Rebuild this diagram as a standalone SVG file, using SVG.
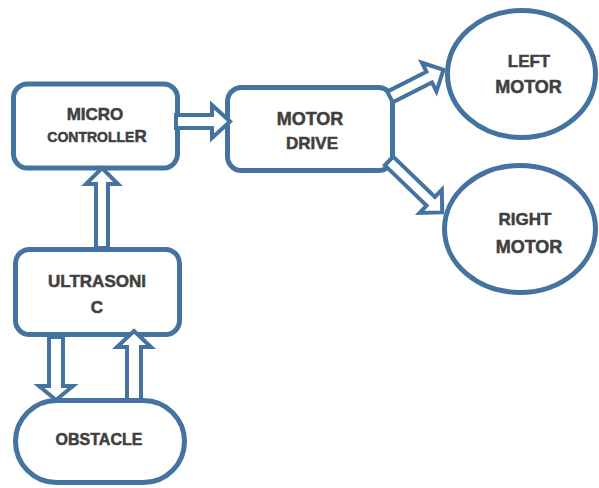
<svg xmlns="http://www.w3.org/2000/svg" width="599" height="488" viewBox="0 0 599 488">
<style>
.box{fill:#fff;stroke:#44739f;stroke-width:5}
.arr{fill:#fff;stroke:#44739f;stroke-width:4;stroke-linejoin:miter}
text{font-family:"Liberation Sans",Arial,sans-serif;font-weight:bold;fill:#404040;stroke:#404040;stroke-width:0.5;text-anchor:middle}
</style>
<rect width="599" height="488" fill="#fff"/>
<g id="micro">
<rect class="box" x="13.5" y="84" width="164" height="84" rx="14"/>
<text x="95" y="120" style="font-size:17px">MICRO</text>
<text x="97" y="142" style="font-size:14px">CONTROLLE<tspan style="font-size:17px">R</tspan></text>
</g>
<g id="drive">
<rect class="box" x="227.5" y="87.5" width="165" height="83" rx="14"/>
<text x="310" y="125" style="font-size:18px">MOTOR</text>
<text x="312" y="149" style="font-size:17px">DRIVE</text>
</g>
<g id="left">
<ellipse class="box" cx="521.5" cy="74" rx="74" ry="63.5"/>
<text x="529" y="67" style="font-size:17px">LEFT</text>
<text x="528.5" y="93" style="font-size:18px">MOTOR</text>
</g>
<g id="right">
<ellipse class="box" cx="520" cy="229" rx="75.5" ry="63.5"/>
<text x="525" y="225" style="font-size:17px">RIGHT</text>
<text x="529" y="253" style="font-size:18px">MOTOR</text>
</g>
<g id="ultra">
<rect class="box" x="15.5" y="249.5" width="164" height="85" rx="14"/>
<text x="97" y="287" style="font-size:17px">ULTRASONI</text>
<text x="97" y="313" style="font-size:17px">C</text>
</g>
<g id="obstacle">
<rect class="box" x="15.5" y="400.5" width="169" height="82" rx="41"/>
<text x="99" y="445" style="font-size:16px">OBSTACLE</text>
</g>
<g id="connectors">
<polygon class="arr" points="176,115 212,115 212,105 230,121.5 212,138 212,128 176,128"/>
<polygon class="arr" points="96,248 96,184 86,184 102,168 118,184 108,184 108,248"/>
<polygon class="arr" points="49,337 49,386 39,386 56,400 73,386 63,386 63,337"/>
<polygon class="arr" points="127,400 127,347 117,347 134,331 151,347 141,347 141,400"/>
<polygon class="arr" transform="translate(390,97) rotate(-27)" points="0,-6 44,-6 44,-16 60,0 44,16 44,6 0,6"/>
<polygon class="arr" transform="translate(389,161) rotate(44)" points="0,-6 58,-6 58,-16 74,0 58,16 58,6 0,6"/>
</g>
</svg>
